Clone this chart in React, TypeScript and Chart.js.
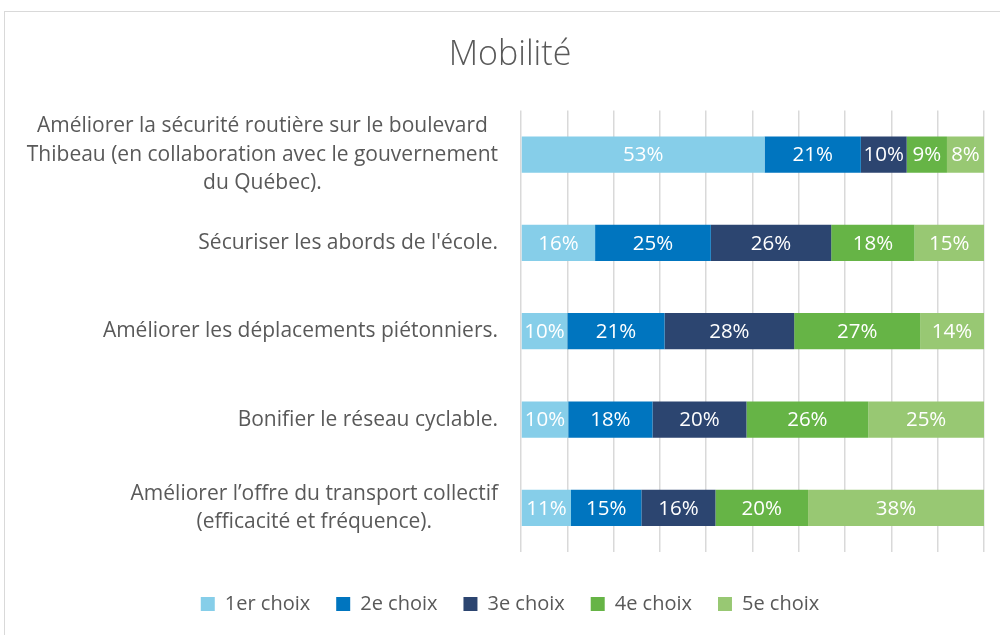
import React, { useEffect, useRef } from "react";
import { Chart, registerables } from "chart.js";

Chart.register(...registerables);

const categories: string[][] = [
  ["Améliorer la sécurité routière sur le boulevard", "Thibeau (en collaboration avec le gouvernement", "du Québec)."],
  ["Sécuriser les abords de l'école."],
  ["Améliorer les déplacements piétonniers."],
  ["Bonifier le réseau cyclable."],
  ["Améliorer l’offre du transport collectif", "(efficacité et fréquence)."],
];

const seriesNames = ["1er choix", "2e choix", "3e choix", "4e choix", "5e choix"];
const choice1 = [52.6, 16, 10, 10.2, 10.8];
const choice2 = [20.8, 25, 21, 18.2, 15.2];
const choice3 = [9.9, 26, 28, 20.3, 16.0];
const choice4 = [8.7, 18, 27.2, 26.3, 20.0];
const choice5 = [8.0, 15, 13.8, 25.0, 38.0];
const colors = ["#86CEE9", "#0075BF", "#2C4570", "#66B446", "#98C873"];
const titleText = "Mobilité";

const FONT = "'Open Sans', Lato, sans-serif";
const TEXT = "#595959";

const catLabelPlugin = {
  id: "catLabels",
  afterDraw(chart: any) {
    const ctx = chart.ctx;
    const y = chart.scales.y;
    const rightX = chart.chartArea.left - 23;
    ctx.save();
    ctx.font = `21px ${FONT}`;
    ctx.fillStyle = TEXT;
    ctx.textBaseline = "middle";
    ctx.textAlign = "center";
    const lh = 28.5;
    categories.forEach((lines, i) => {
      const cy = y.getPixelForValue(i);
      const w = Math.max(...lines.map((l) => ctx.measureText(l).width));
      const cx = rightX - w / 2;
      const y0 = cy - ((lines.length - 1) * lh) / 2;
      lines.forEach((l, j) => ctx.fillText(l, cx, y0 + j * lh));
    });
    ctx.restore();
  },
};

const dataLabelPlugin = {
  id: "dataLabels",
  afterDatasetsDraw(chart: any) {
    const ctx = chart.ctx;
    ctx.save();
    ctx.font = `20.5px ${FONT}`;
    ctx.fillStyle = "#FFFFFF";
    ctx.textAlign = "center";
    ctx.textBaseline = "middle";
    chart.data.datasets.forEach((ds: any, di: number) => {
      const meta = chart.getDatasetMeta(di);
      meta.data.forEach((el: any, i: number) => {
        const v = ds.data[i];
        const cx = (el.x + el.base) / 2;
        ctx.fillText(Math.round(v) + "%", cx, el.y + 1);
      });
    });
    ctx.restore();
  },
};

export default function App() {
  const ref = useRef<HTMLCanvasElement>(null);
  useEffect(() => {
    if (!ref.current) return;
    const series = [choice1, choice2, choice3, choice4, choice5];
    const chart = new Chart(ref.current, {
      type: "bar",
      data: {
        labels: categories,
        datasets: series.map((d, i) => ({
          label: seriesNames[i],
          data: d,
          backgroundColor: colors[i],
          borderWidth: 0,
          categoryPercentage: 1,
          barPercentage: 0.41,
        })),
      },
      options: {
        indexAxis: "y",
        responsive: false,
        animation: false,
        layout: { padding: { left: 36, right: 16, top: 0, bottom: 11 } },
        scales: {
          x: {
            stacked: true,
            min: 0,
            max: 100,
            ticks: { display: false, stepSize: 10 },
            border: { display: false },
            grid: { color: "#d9d9d9", lineWidth: 1.5, drawTicks: true, tickLength: 16, tickColor: "transparent" },
          },
          y: {
            stacked: true,
            ticks: { display: false },
            border: { display: false },
            grid: { display: false },
            afterFit: (s: any) => {
              s.width = 485;
            },
          },
        },
        plugins: {
          title: {
            display: true,
            text: titleText,
            color: TEXT,
            font: { family: FONT, size: 34, weight: "300" as any },
            padding: { top: 34.5, bottom: 35.1 },
          },
          legend: {
            position: "bottom",
            labels: {
              color: TEXT,
              font: { family: FONT, size: 20 },
              boxWidth: 14,
              boxHeight: 14,
              padding: 26,
            },
          },
          tooltip: { enabled: false },
        },
      },
      plugins: [catLabelPlugin, dataLabelPlugin],
    });
    return () => chart.destroy();
  }, []);
  return (
    <>
      <div
        style={{
          position: "absolute",
          left: 4,
          top: 11,
          width: 1000,
          height: 640,
          border: "1px solid #d9d9d9",
          boxSizing: "border-box",
        }}
      />
      <canvas
        ref={ref}
        width={1000}
        height={635}
        style={{ position: "absolute", left: 0, top: 0, width: 1000, height: 635 }}
      />
    </>
  );
}
